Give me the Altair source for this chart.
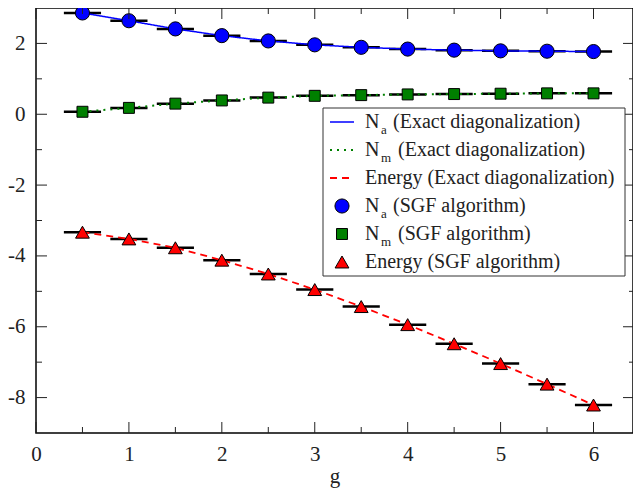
import altair as alt
import pandas as pd

# ---------------- data ----------------
g = [0.5, 1.0, 1.5, 2.0, 2.5, 3.0, 3.5, 4.0, 4.5, 5.0, 5.5, 6.0]
g_err = [0.2, 0.2, 0.2, 0.2, 0.2, 0.2, 0.2, 0.2, 0.2, 0.2, 0.2, 0.2]
n_a = [2.86, 2.64, 2.41, 2.22, 2.07, 1.96, 1.89, 1.84, 1.81, 1.79, 1.78, 1.77]
n_m = [0.07, 0.18, 0.30, 0.39, 0.47, 0.52, 0.54, 0.56, 0.57, 0.58, 0.59, 0.59]
energy = [-3.33, -3.52, -3.77, -4.12, -4.51, -4.95, -5.43, -5.94, -6.48, -7.04, -7.62, -8.21]

x_major = [0, 1, 2, 3, 4, 5, 6]
x_minor = [0.5, 1.5, 2.5, 3.5, 4.5, 5.5]
y_major = [-8, -6, -4, -2, 0, 2]
y_minor = [-7, -5, -3, -1, 1]

legend_main = ["N", "N", "Energy", "N", "N", "Energy"]
legend_sub = ["a", "m", "", "a", "m", ""]
legend_rest = ["(Exact diagonalization)", "(Exact diagonalization)", "(Exact diagonalization)",
               "(SGF algorithm)", "(SGF algorithm)", "(SGF algorithm)"]

# ---------------- styling ----------------
SERIF = "Liberation Serif"
TXT = "#222222"
W, H = 597, 425
XMAX = 6.425
BLUE, GREEN, RED = "#0000ff", "#008000", "#ff0000"

df = pd.DataFrame({"g": g, "err": g_err, "n_a": n_a, "n_m": n_m, "energy": energy})
df["g_lo"] = df["g"] - df["err"]
df["g_hi"] = df["g"] + df["err"]

xs = alt.Scale(domain=[0, XMAX], nice=False, zero=False)
ys = alt.Scale(domain=[-9, 3], nice=False, zero=False)

xaxis = alt.Axis(values=x_major, ticks=False, domain=False, grid=False,
                 labelFont=SERIF, labelFontSize=21, labelColor=TXT, labelPadding=10,
                 labelFlush=False, labelExpr="datum.value + ''",
                 titleFont=SERIF, titleFontSize=21,
                 titleFontWeight="normal", titleColor=TXT, titlePadding=1)
yaxis = alt.Axis(values=y_major, ticks=False, domain=False, grid=False,
                 labelFont=SERIF, labelFontSize=21, labelColor=TXT, labelPadding=11,
                 labelFlush=False, labelExpr="datum.value + ''")

layers = []

# error bars
for col in ["n_a", "n_m", "energy"]:
    layers.append(
        alt.Chart(df).mark_rule(color="black", strokeWidth=2.5).encode(
            x=alt.X("g_lo:Q", scale=xs, axis=xaxis, title="g"),
            x2="g_hi:Q",
            y=alt.Y(f"{col}:Q", scale=ys, axis=yaxis, title=""),
        )
    )

# exact-diagonalization curves
line_styles = {"n_a": (BLUE, [1, 0], 1.5), "n_m": (GREEN, [2, 5], 2), "energy": (RED, [7, 5], 1.8)}
for col, (c, dash, sw) in line_styles.items():
    layers.append(
        alt.Chart(df).mark_line(color=c, strokeDash=dash, strokeWidth=sw).encode(
            x=alt.X("g:Q", scale=xs, title="g"),
            y=alt.Y(f"{col}:Q", scale=ys, title=""),
        )
    )

# SGF points
pt_styles = {"n_a": (BLUE, "circle", 200), "n_m": (GREEN, "square", 120), "energy": (RED, "triangle-up", 190)}
for col, (c, shp, sz) in pt_styles.items():
    layers.append(
        alt.Chart(df).mark_point(shape=shp, filled=True, fill=c, stroke="black",
                                 strokeWidth=1, size=sz, opacity=1).encode(
            x=alt.X("g:Q", scale=xs, title="g"),
            y=alt.Y(f"{col}:Q", scale=ys, title=""),
        )
    )

# inward ticks on all four sides
tx_major = pd.DataFrame({"t": x_major})
tx_minor = pd.DataFrame({"t": x_minor})
ty_major = pd.DataFrame({"t": y_major})
ty_minor = pd.DataFrame({"t": y_minor})
TCOL = "#222222"
for d, ln in [(tx_major, 11), (tx_minor, 6)]:
    layers.append(alt.Chart(d).mark_rule(color=TCOL, strokeWidth=1).encode(
        x=alt.X("t:Q", scale=xs, title="g"), y=alt.value(H), y2=alt.value(H - ln)))
    layers.append(alt.Chart(d).mark_rule(color=TCOL, strokeWidth=1).encode(
        x=alt.X("t:Q", scale=xs, title="g"), y=alt.value(0), y2=alt.value(ln)))
for d, ln, lnr in [(ty_major, 11, 10), (ty_minor, 6, 4)]:
    layers.append(alt.Chart(d).mark_rule(color=TCOL, strokeWidth=1).encode(
        y=alt.Y("t:Q", scale=ys, title=""), x=alt.value(0), x2=alt.value(ln)))
    layers.append(alt.Chart(d).mark_rule(color=TCOL, strokeWidth=1).encode(
        y=alt.Y("t:Q", scale=ys, title=""), x=alt.value(W), x2=alt.value(W - lnr)))

# ---------------- legend (drawn by hand for subscripts) ----------------
one = pd.DataFrame({"k": [0]})
LX0, LX1, LY0, LY1 = 287, 589, 100, 268
layers.append(alt.Chart(one).mark_rect(fill="white", stroke="#333333", strokeWidth=1).encode(
    x=alt.value(LX0), x2=alt.value(LX1), y=alt.value(LY0), y2=alt.value(LY1)))

row_y = [114 + 28 * i for i in range(6)]
samples = [("line", BLUE, [1, 0], 1.5), ("line", GREEN, [2, 5], 2), ("line", RED, [7, 5], 1.8),
           ("pt", BLUE, "circle", 200), ("pt", GREEN, "square", 120), ("pt", RED, "triangle-up", 190)]
TX = 329
for i, ry in enumerate(row_y):
    kind, c, a, b = samples[i]
    if kind == "line":
        layers.append(alt.Chart(one).mark_rule(color=c, strokeDash=a, strokeWidth=b).encode(
            x=alt.value(294), x2=alt.value(318), y=alt.value(ry)))
    else:
        layers.append(alt.Chart(one).mark_point(shape=a, filled=True, fill=c, stroke="black",
                                                strokeWidth=1, size=b, opacity=1).encode(
            x=alt.value(306), y=alt.value(ry)))
    lab = pd.DataFrame({"main": [legend_main[i]], "sub": [legend_sub[i]], "rest": [legend_rest[i]]})
    if legend_sub[i]:
        layers.append(alt.Chart(lab).mark_text(align="left", baseline="middle", font=SERIF,
                                               fontSize=20, color=TXT).encode(
            x=alt.value(TX), y=alt.value(ry), text="main:N"))
        layers.append(alt.Chart(lab).mark_text(align="left", baseline="middle", font=SERIF,
                                               fontSize=13, color=TXT).encode(
            x=alt.value(TX + 16), y=alt.value(ry + 8), text="sub:N"))
        off = 28 if legend_sub[i] == "a" else 33
        layers.append(alt.Chart(lab).mark_text(align="left", baseline="middle", font=SERIF,
                                               fontSize=20, color=TXT).encode(
            x=alt.value(TX + off), y=alt.value(ry), text="rest:N"))
    else:
        lab["full"] = lab["main"] + " " + lab["rest"]
        layers.append(alt.Chart(lab).mark_text(align="left", baseline="middle", font=SERIF,
                                               fontSize=20, color=TXT).encode(
            x=alt.value(TX), y=alt.value(ry), text="full:N"))

chart = alt.layer(*layers).properties(
    width=W, height=H,
    autosize=alt.AutoSizeParams(type="none"),
    padding={"left": 28, "top": 0, "right": 0, "bottom": 55},
).configure_view(stroke="black", strokeWidth=1.5)

chart.save("out.html", embed_options={"renderer": "svg", "actions": False})
